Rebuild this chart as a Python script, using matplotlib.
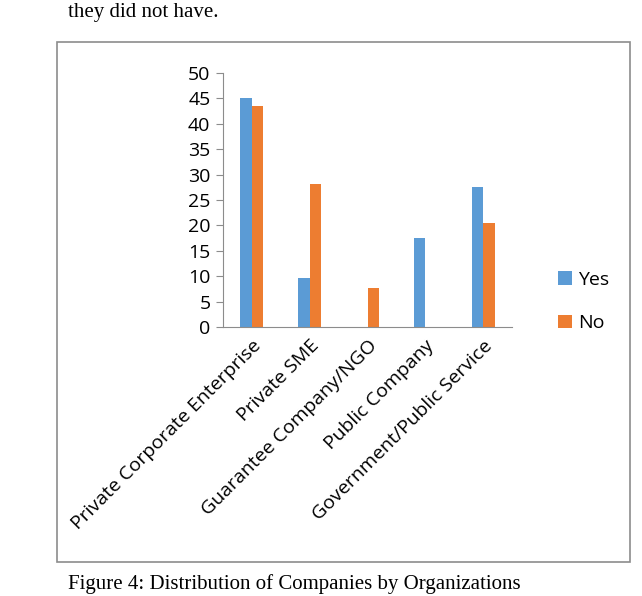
import numpy as np
import matplotlib.pyplot as plt
from matplotlib.patches import Rectangle

categories = ['Private Corporate Enterprise', 'Private SME', 'Guarantee Company/NGO',
              'Public Company', 'Government/Public Service']
yes = [45.0, 9.7, 0.0, 17.5, 27.5]
no = [43.6, 28.2, 7.7, 0.0, 20.5]
yticks = [0, 5, 10, 15, 20, 25, 30, 35, 40, 45, 50]

blue = '#5b9bd5'
orange = '#ed7d31'
axis_grey = '#8c8c8c'
font = ['Open Sans', 'DejaVu Sans']

fig = plt.figure(figsize=(6.42, 5.96), dpi=100)

# frame of the chart area
fig.patches.append(Rectangle((57 / 642, 1 - 562 / 596), (630 - 57) / 642, (562 - 42) / 596,
                             transform=fig.transFigure, fill=False,
                             edgecolor=axis_grey, linewidth=1.2))

ax = fig.add_axes([223 / 642, 1 - 327 / 596, (512 - 223) / 642, (327 - 73) / 596])
x = np.arange(len(categories))
w = 0.2
ax.bar(x - w / 2, yes, w, color=blue, label='Yes')
ax.bar(x + w / 2, no, w, color=orange, label='No')

ax.set_xlim(-0.5, 4.5)
ax.set_ylim(0, 50)
ax.set_yticks(yticks)
ax.set_xticks(x)
ax.set_xticklabels(categories, rotation=45, ha='right', rotation_mode='anchor',
                   family=font, fontsize=14)
for t in ax.get_yticklabels():
    t.set_family(font)
    t.set_fontsize(14)
ax.tick_params(axis='x', length=0, pad=7)
ax.tick_params(axis='y', length=5, color=axis_grey, pad=4)
for s in ['top', 'right']:
    ax.spines[s].set_visible(False)
ax.spines['left'].set_color(axis_grey)
ax.spines['bottom'].set_color(axis_grey)

leg = ax.legend(loc='center left', bbox_to_anchor=(1.1, 0.1), frameon=False,
                prop={'family': font, 'size': 14}, handlelength=0.7, handleheight=0.7,
                labelspacing=1.3, handletextpad=0.3)

# surrounding page text
fig.text(68 / 642, 1 - 12 / 596, 'they did not have.', family='Liberation Serif',
         fontsize=15, va='center')
fig.text(68 / 642, 1 - 584 / 596, 'Figure 4: Distribution of Companies by Organizations',
         family='Liberation Serif', fontsize=15, va='center')

plt.savefig('out.png', dpi=100)
